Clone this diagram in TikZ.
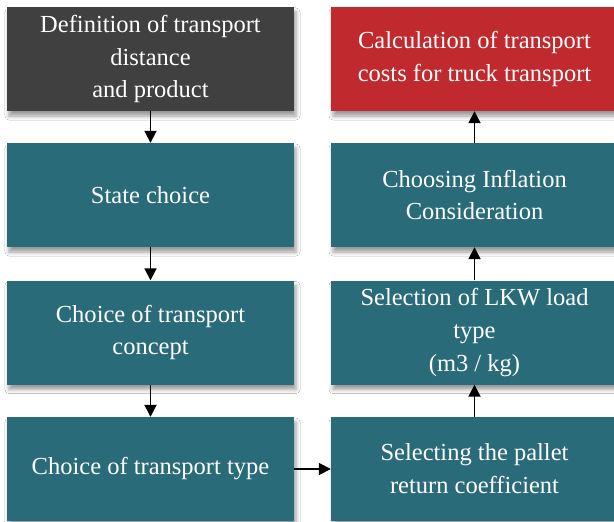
\documentclass[tikz,border=0pt]{standalone}
\usepackage{fontspec}
\setmainfont{Liberation Serif}
\usetikzlibrary{arrows.meta,shadows.blur}
\definecolor{stepteal}{RGB}{42,107,122}
\definecolor{stepgray}{RGB}{64,64,64}
\definecolor{stepred}{RGB}{192,41,45}
\begin{document}
\begin{tikzpicture}[x=1bp, y=1bp,
  box/.style={rectangle, fill=stepteal, text=white, align=center, inner sep=0pt,
    minimum width=287bp, minimum height=104bp,
    font=\fontsize{24.6}{33}\selectfont,
    blur shadow={shadow xshift=2bp, shadow yshift=-5bp, shadow blur radius=4bp, shadow opacity=40}},
  link/.style={line width=1.8bp, -{Triangle[width=12bp,length=12bp]}}]
\useasboundingbox (0,0) rectangle (614,-522);
\fill[white] (0,0) rectangle (614,-522);
\node[box, fill=stepgray] (def) at (150.5,-59){Definition of transport\\distance\\and product};
\node[box] (state) at (150.5,-195){State choice};
\node[box] (concept) at (150.5,-332.5){Choice of transport\\concept};
\node[box] (type) at (150.5,-469){Choice of transport type};
\node[box] (pallet) at (474.5,-469){Selecting the pallet\\return coefficient};
\node[box] (load) at (474.5,-332.5){Selection of LKW load\\type\\(m3 / kg)};
\node[box] (infl) at (474.5,-195){Choosing Inflation\\Consideration};
\node[box, fill=stepred] (calc) at (474.5,-59){Calculation of transport\\costs for truck transport};
\draw[link](def) -- (state);
\draw[link](state) -- (concept);
\draw[link](concept) -- (type);
\draw[link](type) -- (pallet);
\draw[link](pallet) -- (load);
\draw[link](load) -- (infl);
\draw[link](infl) -- (calc);
\end{tikzpicture}
\end{document}
